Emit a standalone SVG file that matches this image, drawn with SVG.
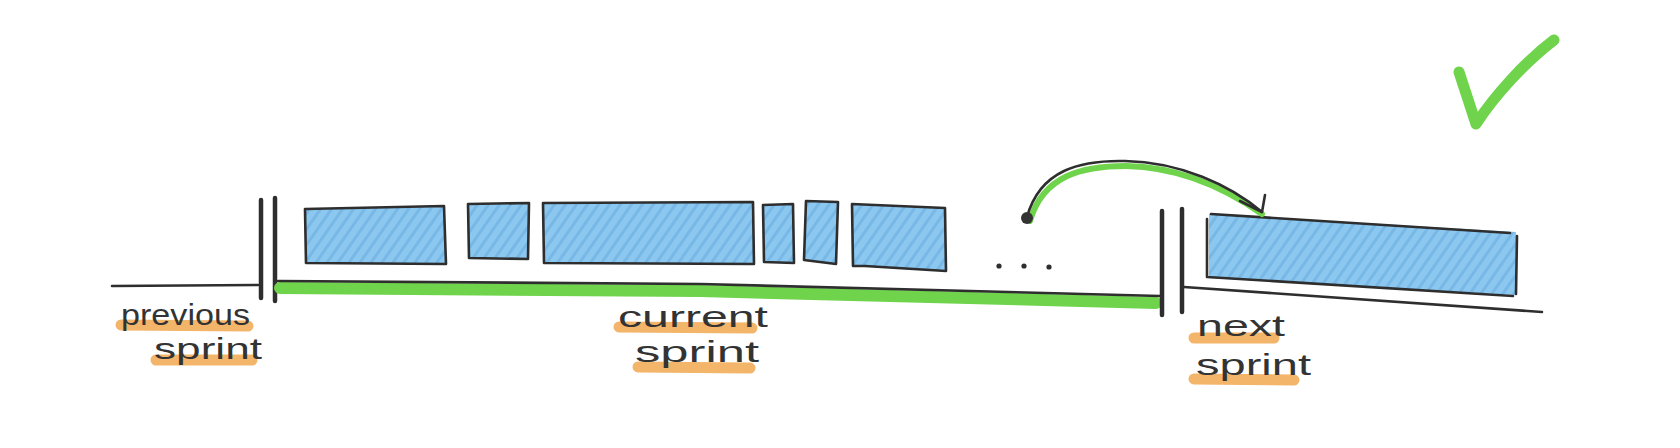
<svg xmlns="http://www.w3.org/2000/svg" width="1680" height="448" viewBox="0 0 1680 448">
<defs>
<pattern id="hatch" patternUnits="userSpaceOnUse" width="9" height="9" patternTransform="rotate(-55)">
<rect width="9" height="9" fill="#8cc7ef"/>
<line x1="0" y1="4.5" x2="9" y2="4.5" stroke="#78b8e6" stroke-width="3"/>
</pattern>
</defs>
<style>
.ink{fill:none;stroke:#2e2e2e;stroke-width:2.6;stroke-linecap:round;stroke-linejoin:round}
.bar{fill:none;stroke:#2e2e2e;stroke-width:4.5;stroke-linecap:round}
.task{fill:url(#hatch);stroke:#2e2e2e;stroke-width:2.6;stroke-linejoin:round}
.hl{fill:none;stroke:#f3b56a;stroke-width:11;stroke-linecap:round}
.green{fill:none;stroke:#6fd34c;stroke-linecap:round;stroke-linejoin:round}
.lbl{font-family:"Liberation Sans",Arial,sans-serif;font-size:29px;fill:#333}
</style>
<rect width="1680" height="448" fill="#ffffff"/>

<g id="previous-sprint">
<line class="ink" x1="112" y1="286" x2="258" y2="285"/>
<line class="hl" x1="121" y1="325" x2="248" y2="326"/>
<line class="hl" x1="156" y1="360" x2="252" y2="360"/>
<text class="lbl" x="121" y="325" textLength="129" lengthAdjust="spacingAndGlyphs">previous</text>
<text class="lbl" x="154" y="359" textLength="108" lengthAdjust="spacingAndGlyphs">sprint</text>
</g>

<g id="current-sprint">
<line class="bar" x1="261" y1="200" x2="261" y2="298"/>
<line class="bar" x1="275" y1="198" x2="275" y2="301"/>
<path class="green" stroke-width="12" d="M280,288 C450,288 600,289 700,291 C850,295 1000,299 1156,303"/>
<path class="ink" d="M278,281 C450,281 600,282 700,284 C850,288 1000,292 1160,296"/>
<line class="hl" x1="619" y1="327" x2="752" y2="328"/>
<line class="hl" x1="638" y1="367" x2="750" y2="368"/>
<text class="lbl" x="618" y="327" textLength="150" lengthAdjust="spacingAndGlyphs">current</text>
<text class="lbl" x="635" y="362" textLength="124" lengthAdjust="spacingAndGlyphs">sprint</text>
</g>

<g id="tasks">
<path class="task" d="M305,209 L444,206 L446,264 L306,263 Z"/>
<path class="task" d="M468,204 L529,203 L528,259 L469,258 Z"/>
<path class="task" d="M543,203 L753,202 L754,264 L544,263 Z"/>
<path class="task" d="M763,205 L793,204 L794,263 L764,262 Z"/>
<path class="task" d="M806,201 L838,202 L836,264 L804,260 Z"/>
<path class="task" d="M852,204 L945,208 L946,271 L865,266 L853,266 Z"/>
<circle cx="999" cy="266" r="2.6" fill="#2e2e2e"/>
<circle cx="1024" cy="266" r="2.6" fill="#2e2e2e"/>
<circle cx="1049" cy="267" r="2.6" fill="#2e2e2e"/>
</g>

<g id="next-sprint">
<line class="bar" x1="1162" y1="211" x2="1162" y2="315"/>
<line class="bar" x1="1182" y1="209" x2="1182" y2="312"/>
<line class="ink" x1="1184" y1="287" x2="1542" y2="312"/>
<path d="M1209,214 L1516,232 L1516,295 L1209,278 Z" fill="url(#hatch)"/>
<path class="ink" d="M1211,214 L1510,233 M1207,219 L1207,277 L1513,296 M1517,236 L1516,294"/>
<line class="hl" x1="1194" y1="338" x2="1274" y2="338"/>
<line class="hl" x1="1194" y1="379" x2="1294" y2="380"/>
<text class="lbl" x="1197" y="336" textLength="88" lengthAdjust="spacingAndGlyphs">next</text>
<text class="lbl" x="1196" y="375" textLength="115" lengthAdjust="spacingAndGlyphs">sprint</text>
</g>

<g id="connectors">
<path class="green" stroke-width="6" d="M1030,221 C1043,175 1083,166 1126,166 C1181,167 1228,190 1262,214"/>
<path class="ink" d="M1027,217 C1040,170 1080,160 1125,161 C1180,162 1230,185 1262,212"/>
<path class="ink" d="M1240,201 L1262,212 L1265,195"/>
<circle cx="1027" cy="218" r="6" fill="#333"/>
</g>

<g id="check">
<path class="green" stroke-width="11" d="M1459,72 L1476,124 C1495,95 1525,62 1554,40"/>
</g>
</svg>
